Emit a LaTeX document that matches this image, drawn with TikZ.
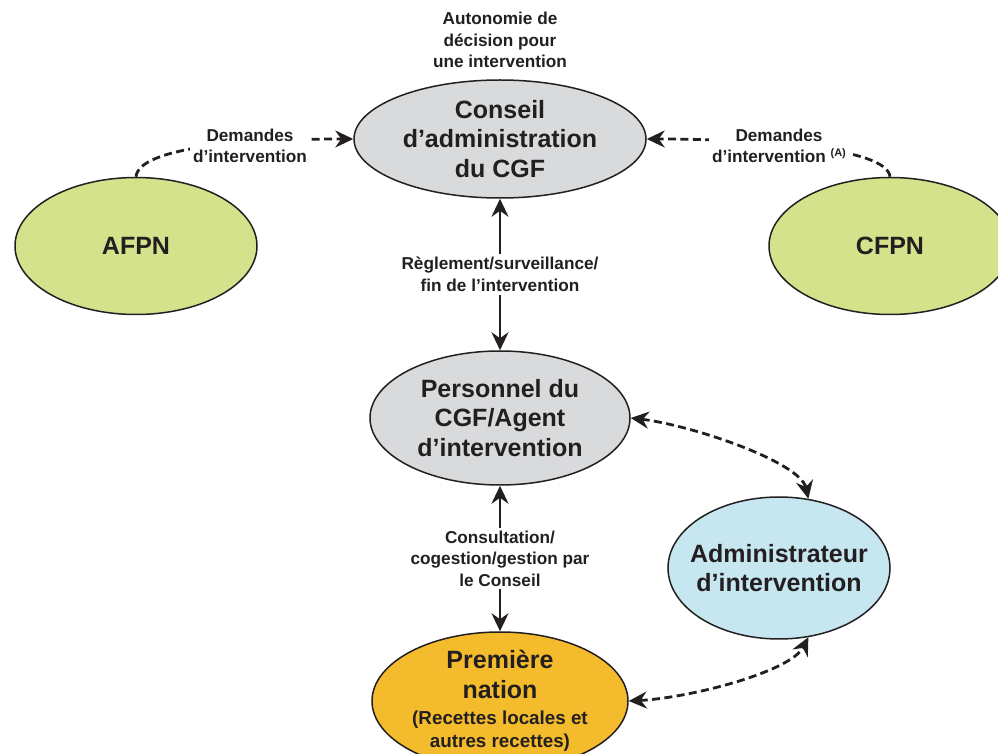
\documentclass[tikz,border=0pt]{standalone}
\usepackage{fontspec}
\setmainfont{Liberation Sans}
\usetikzlibrary{shapes.geometric, arrows.meta}

\definecolor{traitnoir}{HTML}{231F20}
\definecolor{grisbulle}{HTML}{D9DADC}
\definecolor{vertbulle}{HTML}{D5E28C}
\definecolor{bleubulle}{HTML}{C6E6F0}
\definecolor{orbulle}{HTML}{F4BC2C}

\newcommand{\corpsrecettes}{\bfseries\fontsize{9.4}{11}\selectfont}

\tikzset{
  bulle/.style={ellipse, draw=traitnoir, line width=0.75pt, inner sep=0pt},
  grostexte/.style={font=\bfseries\fontsize{12.5}{14.8}\selectfont, align=center, text=traitnoir},
  petittexte/.style={font=\bfseries\fontsize{8.6}{10.8}\selectfont, align=center, text=traitnoir},
  etiquette/.style={petittexte, fill=white, inner sep=1.5pt},
  pointe/.tip={Stealth[length=9pt, width=8.5pt, inset=3pt]},
  plein/.style={line width=1.3pt, draw=traitnoir, pointe-pointe},
  tirets/.style={line width=1.4pt, draw=traitnoir, dash pattern=on 4pt off 2.2pt},
}

\begin{document}
\begin{tikzpicture}[x=0.5pt, y=-0.5pt, line join=round]
  \useasboundingbox (0,0) rectangle (998,754);
  \clip (0,0) rectangle (998,754);
  % bulles
  \node[bulle, fill=grisbulle, minimum width=146pt, minimum height=59pt,
        label={[grostexte]center:{Conseil\\d’administration\\du CGF}}] (conseil) at (500,139) {};
  \node[bulle, fill=vertbulle, minimum width=121pt, minimum height=68.5pt,
        label={[grostexte]center:AFPN}] (afpn) at (136,246) {};
  \node[bulle, fill=vertbulle, minimum width=121pt, minimum height=68.5pt,
        label={[grostexte]center:CFPN}] (cfpn) at (890,246) {};
  \node[bulle, fill=grisbulle, minimum width=130pt, minimum height=67pt,
        label={[grostexte]center:{Personnel du\\CGF/Agent\\d’intervention}}] (personnel) at (500,418) {};
  \node[bulle, fill=bleubulle, minimum width=111pt, minimum height=71pt,
        label={[grostexte]center:{Administrateur\\d’intervention}}] (admin) at (779,568) {};
  \node[bulle, fill=orbulle, minimum width=128pt, minimum height=69pt,
        label={[grostexte]center:{Première\\nation\\[-2pt]\corpsrecettes(Recettes locales et\\[-3pt]\corpsrecettes autres recettes)}}] (premiere) at (500,701) {};

  \node[petittexte] (autonomie) at (500,40) {Autonomie de\\décision pour\\une intervention};

  % liens pleins
  \draw[plein] (conseil.south) -- node[etiquette] {Règlement/surveillance/\\fin de l’intervention} (personnel.north);
  \draw[plein] (personnel.south) -- node[etiquette] {Consultation/\\cogestion/gestion par\\le Conseil} (premiere.north);

  % liens en tirets
  \draw[tirets, -pointe] (afpn.north) .. controls +(3,-30) and +(-105,0) .. (conseil.west);
  \node[etiquette] (demgauche) at (250,146) {Demandes\\d’intervention};
  \draw[tirets, -pointe] (cfpn.north) .. controls +(-3,-30) and +(105,0) .. (conseil.east);
  \node[etiquette] (demdroite) at (779,146) {Demandes\\d’intervention \raisebox{0.7ex}{\fontsize{5.5}{6}\selectfont(A)}};
  \draw[tirets, pointe-pointe] (personnel.east) .. controls +(60,7) and +(-8,-37) .. (admin.67);
  \draw[tirets, pointe-pointe] (premiere.east) .. controls +(60,-3) and +(-18,35) .. (admin.293);
\end{tikzpicture}
\end{document}
